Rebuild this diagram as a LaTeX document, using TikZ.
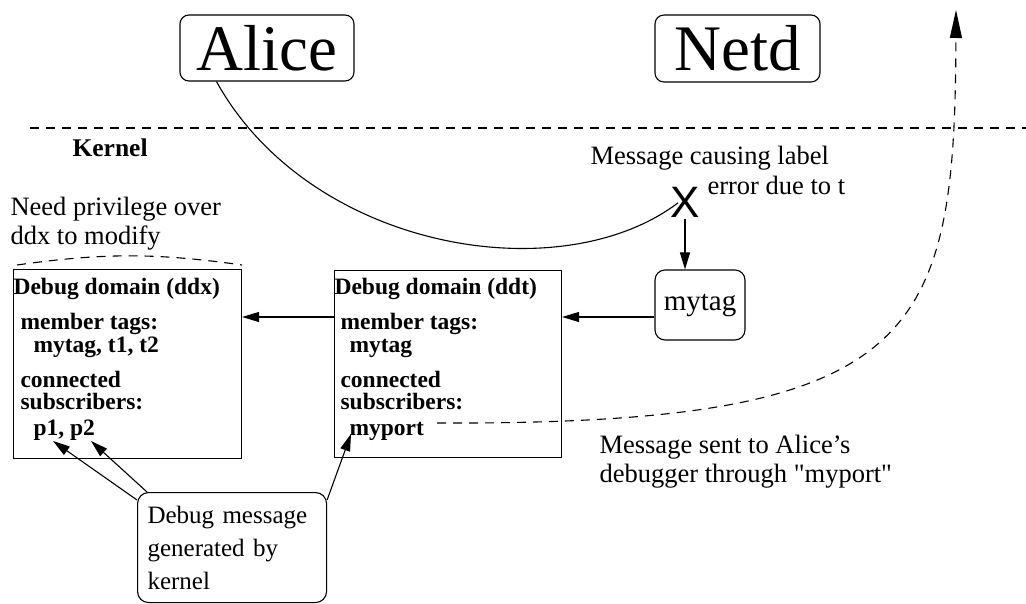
\documentclass[tikz,border=0pt]{standalone}
\usepackage{fontspec}
\setmainfont{Liberation Serif}
\newfontfamily\xfont{Liberation Sans}
\newfontfamily\plainquote[Ligatures=TeXOff]{Liberation Serif}
\usetikzlibrary{arrows.meta}

\begin{document}
\begin{tikzpicture}
[x=1pt,y=-1pt,line width=1.1pt,%
  >={Triangle[length=17pt,width=10pt]},%
  box/.style={draw,rounded corners=9pt,inner sep=0pt},%
  ddbox/.style={draw,inner sep=0pt,anchor=north west},%
  txt/.style={inner sep=0pt,anchor=north west,align=left,font=\fontsize{26.5}{29}\selectfont},%
  tags/.style={inner sep=0pt,anchor=north west,align=left,font=\fontsize{23.5}{22.5}\selectfont\bfseries},%
  sep/.style={dash pattern=on 9pt off 7pt}]
\useasboundingbox (0,0) rectangle (1026,604);

% user space / kernel boundary
\draw[sep] (30,128) -- (1026,128);
\node[inner sep=0pt,anchor=base west,font=\fontsize{25.5}{25.5}\selectfont\bfseries] (kernel) at (72,157) {Kernel};

\node[box,minimum width=174pt,minimum height=66pt,font=\fontsize{65}{65}\selectfont] (alice) at (267,48) {Alice};
\node[box,minimum width=165pt,minimum height=67pt,font=\fontsize{65}{65}\selectfont] (netd) at (737.5,48.5) {Netd};

\node[inner sep=0pt,anchor=base,font=\xfont\fontsize{44}{44}\selectfont] (xmark) at (685,218) {X};
\node[box,rounded corners=10pt,minimum width=90pt,minimum height=70pt,font=\fontsize{29}{29}\selectfont] (mytag) at (700,305) {mytag};

\node[txt,anchor=base west] (causenote) at (590,165) {Message causing label};
\node[txt,anchor=base west] (errnote) at (707,195) {error due to t};

% debug domains
\node[ddbox,minimum width=228pt,minimum height=189pt] (ddx) at (13,269) {};
\node[ddbox,minimum width=227pt,minimum height=187pt] (ddt) at (334,270) {};
\node[tags] (ddxtags) at ([yshift=-9pt]ddx.north west) {Debug domain (ddx)\\[12.5pt]
  \hspace*{7pt}member tags:\\
  \hspace*{20pt}mytag, t1, t2\\[12.5pt]
  \hspace*{7pt}connected\\
  \hspace*{7pt}subscribers:\\[3.5pt]
  \hspace*{20pt}p1, p2};
\node[tags] (ddttags) at ([yshift=-8pt]ddt.north west) {Debug domain (ddt)\\[12.5pt]
  \hspace*{6pt}member tags:\\
  \hspace*{15pt}mytag\\[12.5pt]
  \hspace*{6pt}connected\\
  \hspace*{6pt}subscribers:\\[3.5pt]
  \hspace*{15pt}myport};

\node[txt] (privnote) at (10,197) {Need privilege over\\ddx to modify};
\draw[sep] ([shift={(4pt,4pt)}]ddx.north west) to[bend left=8] ([yshift=4pt]ddx.north east);

\node[box,rounded corners=11pt,anchor=north west,align=left,text width=169pt,inner xsep=10pt,
  minimum height=110pt,font=\fontsize{25}{33}\selectfont] (dbgmsg) at (137,492)
  {Debug message\\generated by\\kernel};
\node[txt] (sentnote) at (599,435) {Message sent to Alice's\\debugger through {\plainquote"}myport{\plainquote"}};

% connectors
\coordinate (tagport) at ([yshift=-12pt]mytag.west);
\coordinate (domport) at ([yshift=-47pt]ddt.north west);
\coordinate (p1) at (53,441);
\coordinate (p2) at (91,441);
\coordinate (myport) at (351,434);
\coordinate (portout) at (437,423);
\coordinate (debugger) at (956,10);

\draw ([xshift=37pt]alice.south west) .. controls (310,250) and (560,292) .. ([xshift=-7pt]xmark.center);
\draw[->] (xmark.south) -- (xmark.south |- mytag.north);
\draw[->] (tagport) -- (tagport -| ddt.east);
\draw[->] (domport) -- (domport -| ddx.east);
\draw[->] ([yshift=-8pt]dbgmsg.north west) -- (p1);
\draw[->] ([xshift=10pt]dbgmsg.north west) -- (p2);
\draw[->] ([yshift=-8pt]dbgmsg.north east) -- (myport);
\draw[sep,-{Triangle[length=28pt,width=12pt]}] (portout) .. controls (920,425) and (955,340) .. (debugger);
\end{tikzpicture}
\end{document}
